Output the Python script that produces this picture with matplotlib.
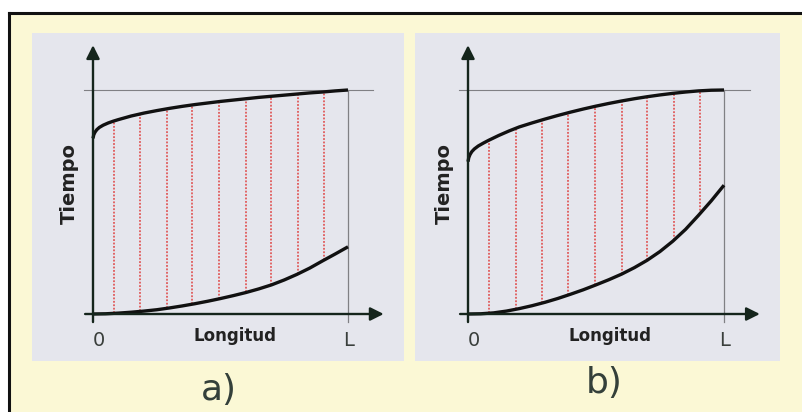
import numpy as np
import matplotlib
matplotlib.use("Agg")
import matplotlib.pyplot as plt
from matplotlib.lines import Line2D
from matplotlib.patches import Rectangle

# ---------------- data (L = 1, top time = 1) ----------------
panel_labels = ["a)", "b)"]
x_label = "Longitud"
y_label = "Tiempo"
origin_label = "0"
end_label = "L"

x_top_a = [0, 0.003, 0.008, 0.015, 0.025, 0.04, 0.06, 0.08, 0.1, 0.15, 0.2, 0.25, 0.3, 0.35,
           0.4, 0.45, 0.5, 0.55, 0.6, 0.65, 0.7, 0.75, 0.8, 0.85, 0.9, 0.95, 1.0]
y_top_a = [0.784, 0.800, 0.812, 0.823, 0.833, 0.843, 0.853, 0.861, 0.868, 0.884, 0.897, 0.908,
           0.918, 0.927, 0.935, 0.942, 0.949, 0.955, 0.961, 0.967, 0.972, 0.977, 0.982, 0.987,
           0.991, 0.996, 1.0]
x_bot_a = [0, 0.05, 0.1, 0.15, 0.2, 0.25, 0.3, 0.35, 0.4, 0.45, 0.5, 0.55, 0.6, 0.65, 0.7,
           0.75, 0.8, 0.85, 0.9, 0.95, 1.0]
y_bot_a = [0, 0.001, 0.004, 0.008, 0.013, 0.019, 0.027, 0.036, 0.046, 0.057, 0.069, 0.082,
           0.096, 0.112, 0.13, 0.152, 0.177, 0.205, 0.237, 0.268, 0.30]

x_top_b = [0, 0.003, 0.008, 0.015, 0.025, 0.04, 0.06, 0.08, 0.12, 0.16, 0.2, 0.25, 0.3, 0.35,
           0.4, 0.45, 0.5, 0.55, 0.6, 0.65, 0.7, 0.75, 0.8, 0.85, 0.9, 0.95, 1.0]
y_top_b = [0.68, 0.698, 0.712, 0.725, 0.737, 0.75, 0.763, 0.775, 0.797, 0.817, 0.835, 0.853,
           0.870, 0.886, 0.901, 0.915, 0.928, 0.940, 0.951, 0.961, 0.970, 0.978, 0.985, 0.991,
           0.996, 0.999, 1.0]
x_bot_b = [0, 0.05, 0.1, 0.15, 0.2, 0.25, 0.3, 0.35, 0.4, 0.45, 0.5, 0.55, 0.6, 0.65, 0.7,
           0.75, 0.8, 0.85, 0.9, 0.95, 1.0]
y_bot_b = [0, 0.001, 0.005, 0.013, 0.024, 0.037, 0.052, 0.069, 0.088, 0.108, 0.13, 0.153,
           0.178, 0.207, 0.24, 0.279, 0.325, 0.378, 0.44, 0.505, 0.575]

x_red = [0.082, 0.186, 0.29, 0.39, 0.495, 0.6, 0.70, 0.805, 0.905]

# ---------------- style ----------------
W, H = 803, 412
YELLOW = "#fbf8d5"
PANEL = "#e5e6ed"
AXC = "#15251c"
CURVE = "#111111"
RED = "#e05a5a"
THIN = "#808084"
TXT = "#34403a"

fig = plt.figure(figsize=(W / 100, H / 100), dpi=100, facecolor="white")

fig.add_artist(Rectangle((10 / W, 0), 1 - 10 / W, (H - 14) / H,
                         transform=fig.transFigure, facecolor=YELLOW,
                         edgecolor="none", zorder=0))
fig.add_artist(Line2D([9 / W, 9 / W], [0, (H - 13) / H], transform=fig.transFigure,
                      color="#111111", lw=2.2, solid_capstyle="projecting"))
fig.add_artist(Line2D([9 / W, 1], [(H - 13) / H, (H - 13) / H], transform=fig.transFigure,
                      color="#111111", lw=2.2, solid_capstyle="projecting"))

panels = [
    dict(pl=32, pr=404, x0=93, xL=348, top=(x_top_a, y_top_a), bot=(x_bot_a, y_bot_a),
         lab=panel_labels[0], lab_xy=(219, 390)),
    dict(pl=415, pr=780, x0=468, xL=724, top=(x_top_b, y_top_b), bot=(x_bot_b, y_bot_b),
         lab=panel_labels[1], lab_xy=(604, 383)),
]
pt, pb = 33, 361
y0px, y1px = 314, 90

for p in panels:
    ax = fig.add_axes([p["pl"] / W, (H - pb) / H, (p["pr"] - p["pl"]) / W, (pb - pt) / H])
    sx = p["xL"] - p["x0"]
    sy = y0px - y1px
    ax.set_xlim((p["pl"] - p["x0"]) / sx, (p["pr"] - p["x0"]) / sx)
    ax.set_ylim((y0px - pb) / sy, (y0px - pt) / sy)
    ax.set_facecolor(PANEL)
    ax.set_xticks([]); ax.set_yticks([])
    for s in ax.spines.values():
        s.set_visible(False)

    xt, yt = p["top"]
    xb, yb = p["bot"]

    ax.plot([-0.035, 1.10], [1, 1], color=THIN, lw=0.8, zorder=1)
    ax.plot([1, 1], [-0.035, 1], color=THIN, lw=0.9, zorder=1)

    for xr in x_red:
        ax.plot([xr, xr], [np.interp(xr, xb, yb), np.interp(xr, xt, yt)],
                color=RED, lw=1.3, ls=(0, (1.0, 0.9)), zorder=2)

    ax.plot(xt, yt, color=CURVE, lw=2.4, solid_capstyle="butt", solid_joinstyle="round", zorder=4)
    ax.plot(xb, yb, color=CURVE, lw=2.4, solid_capstyle="butt", solid_joinstyle="round", zorder=4)

    ax.annotate("", xy=(0, 1.20), xytext=(0, -0.036),
                arrowprops=dict(arrowstyle="-|>", lw=1.7, color=AXC,
                                mutation_scale=20, shrinkA=0, shrinkB=0), zorder=5)
    ax.annotate("", xy=(1.14, 0), xytext=(-0.031, 0),
                arrowprops=dict(arrowstyle="-|>", lw=1.7, color=AXC,
                                mutation_scale=20, shrinkA=0, shrinkB=0), zorder=5)

    def px2data(px, py):
        return (px - p["x0"]) / sx, (y0px - py) / sy

    ax.text(*px2data(p["x0"] + 6, 340), origin_label, ha="center", va="center",
            fontsize=14, color="#3a3f3c")
    ax.text(*px2data(p["xL"] + 1, 340), end_label, ha="center", va="center",
            fontsize=14, color="#3a3f3c")
    ax.text(*px2data(p["x0"] + 142, 336), x_label, ha="center", va="center",
            fontsize=12, fontweight="bold", color="#222")
    ax.text(*px2data(p["x0"] - 24, 183), y_label, ha="center", va="center",
            rotation=90, fontsize=14, fontweight="bold", color="#222")

    fig.text(p["lab_xy"][0] / W, 1 - p["lab_xy"][1] / H, p["lab"], ha="center",
             va="center", fontsize=26, color=TXT)

fig.savefig("out.png", dpi=100, facecolor="white")
